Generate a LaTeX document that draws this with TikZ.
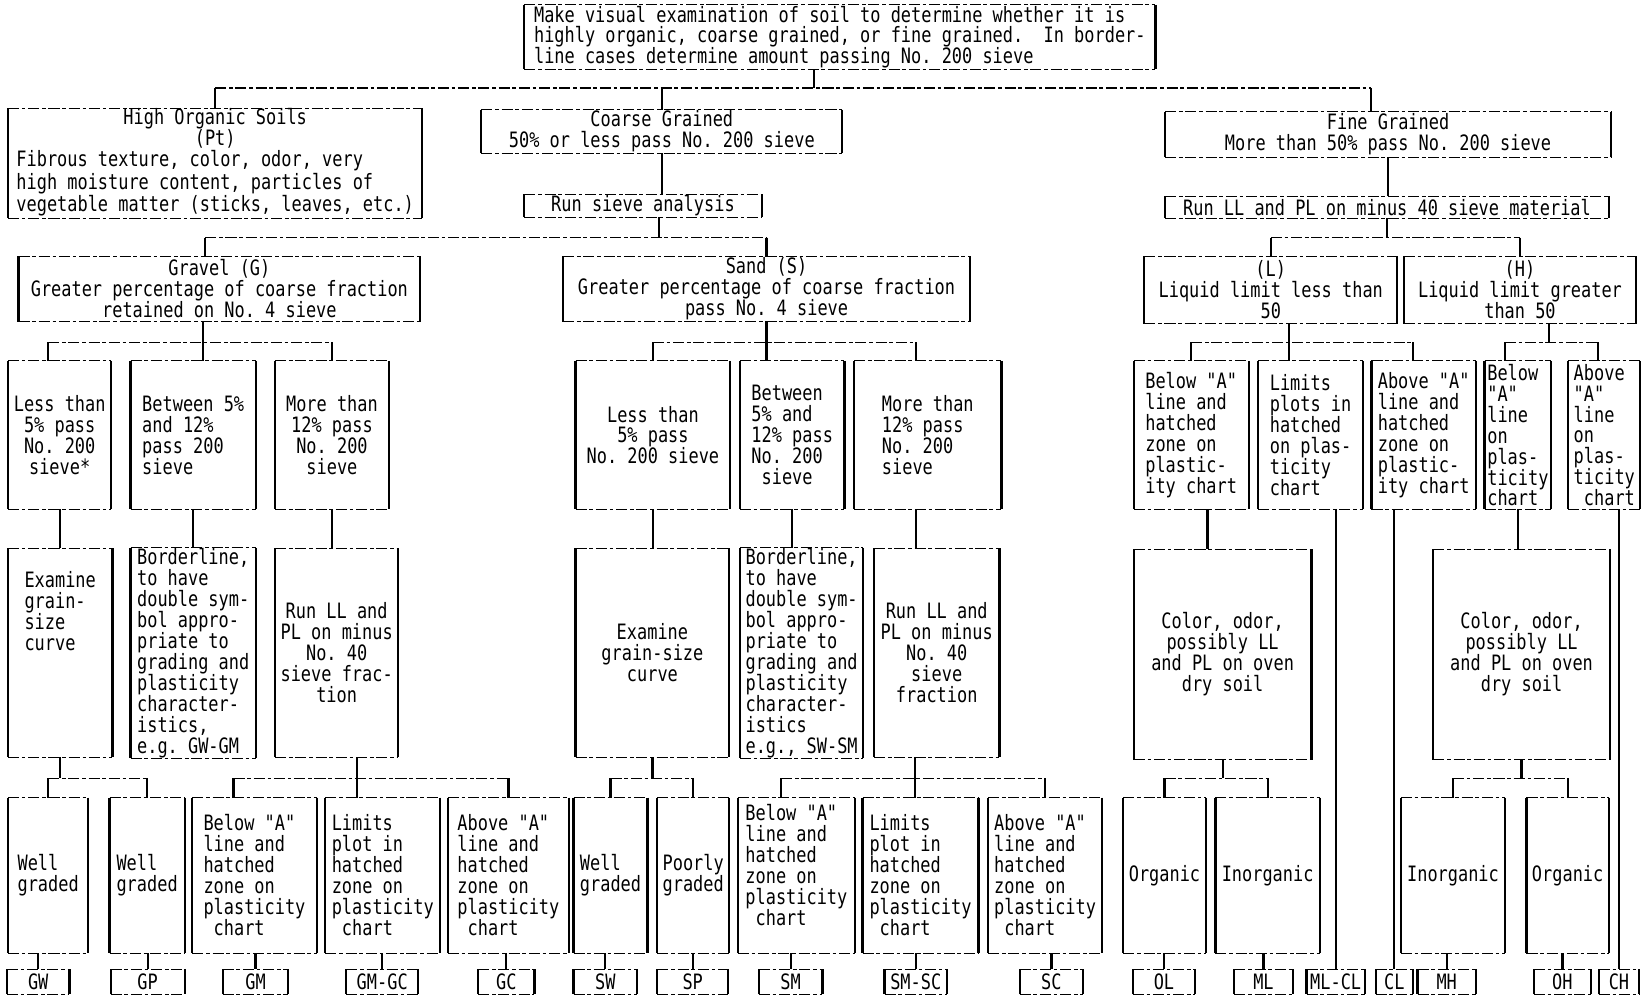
\documentclass[tikz,border=0pt]{standalone}
\usepackage{fontspec}
\newfontfamily\dotfont[FakeStretch=0.8, Ligatures=TeXOff]{DejaVu Sans Mono}
\newcommand{\boxfont}{\dotfont\fontsize{11.5}{11.4}\selectfont\frenchspacing}
\usetikzlibrary{positioning}

\begin{document}
\begin{tikzpicture}[x=0.2mm, y=-0.2mm,
    boxside/.style={line width=1.2pt},
    boxtop/.style={line width=0.6pt, dash pattern=on 6pt off 1.5pt on 2pt off 1.5pt},
    area/.style n args={4}{at={({(#1+#3)/2},{(#2+#4)/2})},
      minimum width={(#3-#1)*0.2mm}, minimum height={(#4-#2)*0.2mm}},
    box/.style={inner sep=0pt, align=center, font=\boxfont,
      append after command={
        (\tikzlastnode.north west) edge[boxside] (\tikzlastnode.south west)
        (\tikzlastnode.north east) edge[boxside] (\tikzlastnode.south east)
        (\tikzlastnode.north west) edge[boxtop] (\tikzlastnode.north east)
        (\tikzlastnode.south west) edge[boxtop] (\tikzlastnode.south east)}},
    lbox/.style={box, align=left},
    link/.style={line width=1.2pt},
    bus/.style={boxtop}]

    \fill[white] (0,0) rectangle (1568,953);
    \useasboundingbox (0,0) rectangle (1568,953);

    % Bus levels
    \coordinate (busA) at (0,84);
    \coordinate (busB) at (0,227);
    \coordinate (busD) at (0,327);
    \coordinate (busE) at (0,743);

    % Top of the chart
    \node[lbox, area={501}{5}{1103}{66}] (T) {Make visual examination of soil to determine whether it is\\highly organic, coarse grained, or fine grained.~ In border-\\line cases determine amount passing No. 200 sieve};

    \node[box, area={8}{105}{403}{207}] (HO) {High Organic Soils\\(Pt)\\\begin{tabular}[t]{@{}l@{}}Fibrous texture, color, odor, very\\high moisture content, particles of\\vegetable matter (sticks, leaves, etc.)\end{tabular}};
    \node[box, area={460}{105}{804}{146}] (CG) {Coarse Grained\\50\% or less pass No. 200 sieve};
    \node[box, area={1113}{107}{1538}{150}] (FG) {Fine Grained\\More than 50\% pass No. 200 sieve};
    \node[box, area={501}{186}{727}{207}] (RS) {Run sieve analysis};
    \node[box, area={1113}{188}{1536}{208}] (RL) {Run LL and PL on minus 40 sieve material};

    \node[box, area={18}{245}{401}{307}] (GR) {Gravel (G)\\Greater percentage of coarse fraction\\retained on No. 4 sieve};
    \node[box, area={538}{245}{926}{307}] (SA) {Sand (S)\\Greater percentage of coarse fraction\\pass No. 4 sieve};
    \node[box, area={1093}{245}{1334}{309}] (LL) {(L)\\Liquid limit less than\\50};
    \node[box, area={1341}{245}{1562}{309}] (LH) {(H)\\Liquid limit greater\\than 50};

    % Gravel - first and second rows
    \node[box, area={8}{345}{106}{486}] (G1a) {Less than\\5\% pass\\No. 200\\sieve*};
    \node[lbox, area={125}{345}{244}{486}] (G1b) {Between 5\%\\and 12\%\\pass 200\\sieve};
    \node[box, area={263}{345}{371}{486}] (G1c) {More than\\12\% pass\\No. 200\\sieve};
    \node[lbox, area={8}{524}{107}{723}] (G2a) {Examine\\grain-\\size\\curve\\~\\~\\~\\~};
    \node[lbox, area={125}{524}{244}{723}] (G2b) {Borderline,\\to have\\double sym-\\bol appro-\\priate to\\grading and\\plasticity\\character-\\istics,\\e.g. GW-GM};
    \node[box, area={263}{524}{380}{723}] (G2c) {Run LL and\\PL on minus\\No. 40\\sieve frac-\\tion};

    % Sand - first and second rows
    \node[box, area={550}{345}{697}{486}] (S1a) {Less than\\5\% pass\\No. 200 sieve};
    \node[lbox, area={707}{345}{806}{486}] (S1b) {Between\\5\% and\\12\% pass\\No. 200\\~sieve};
    \node[lbox, area={816}{345}{956}{486}] (S1c) {More than\\12\% pass\\No. 200\\sieve};
    \node[box, area={550}{524}{696}{723}] (S2a) {Examine\\grain-size\\curve};
    \node[lbox, area={707}{524}{824}{723}] (S2b) {Borderline,\\to have\\double sym-\\bol appro-\\priate to\\grading and\\plasticity\\character-\\istics\\e.g., SW-SM};
    \node[box, area={835}{524}{954}{723}] (S2c) {Run LL and\\PL on minus\\No. 40\\sieve\\fraction};

    % Fine grained - first and second rows
    \node[lbox, area={1083}{345}{1192}{486}] (F1a) {Below "A"\\line and\\hatched\\zone on\\plastic-\\ity chart};
    \node[lbox, area={1202}{345}{1301}{486}] (F1b) {Limits\\plots in\\hatched\\on plas-\\ticity\\chart};
    \node[lbox, area={1310}{345}{1409}{486}] (F1c) {Above "A"\\line and\\hatched\\zone on\\plastic-\\ity chart};
    \node[lbox, area={1418}{345}{1481}{486}] (F1d) {Below\\"A"\\line\\on\\plas-\\ticity\\chart};
    \node[lbox, area={1498}{345}{1566}{486}] (F1e) {Above\\"A"\\line\\on\\plas-\\ticity\\~chart};
    \node[box, area={1083}{525}{1252}{725}] (OvL) {Color, odor,\\possibly LL\\and PL on oven\\dry soil};
    \node[box, area={1369}{525}{1537}{725}] (OvH) {Color, odor,\\possibly LL\\and PL on oven\\dry soil};

    % Third row
    \node[lbox, area={8}{762}{84}{910}] (GW) {Well\\graded};
    \node[lbox, area={105}{762}{176}{910}] (GP) {Well\\graded};
    \node[lbox, area={184}{762}{302}{910}] (GM) {Below "A"\\line and\\hatched\\zone on\\plasticity\\~chart};
    \node[lbox, area={311}{762}{420}{910}] (GMGC) {Limits\\plot in\\hatched\\zone on\\plasticity\\~chart};
    \node[lbox, area={428}{762}{543}{910}] (GC) {Above "A"\\line and\\hatched\\zone on\\plasticity\\~chart};
    \node[lbox, area={548}{762}{618}{910}] (SW) {Well\\graded};
    \node[lbox, area={628}{762}{696}{910}] (SP) {Poorly\\graded};
    \node[lbox, area={705}{762}{816}{910}] (SM) {Below "A"\\line and\\hatched\\zone on\\plasticity\\~chart\\~};
    \node[lbox, area={824}{762}{934}{910}] (SMSC) {Limits\\plot in\\hatched\\zone on\\plasticity\\~chart};
    \node[lbox, area={944}{762}{1052}{910}] (SC) {Above "A"\\line and\\hatched\\zone on\\plasticity\\~chart};
    \node[box, area={1073}{762}{1151}{910}] (OL) {Organic};
    \node[box, area={1161}{762}{1260}{910}] (ML) {Inorganic};
    \node[box, area={1338}{762}{1437}{910}] (MH) {Inorganic};
    \node[box, area={1458}{762}{1536}{910}] (OH) {Organic};

    % Group symbols
    \node[box, area={7}{926}{66}{949}] (cGW) {GW};
    \node[box, area={106}{926}{176}{949}] (cGP) {GP};
    \node[box, area={213}{926}{275}{949}] (cGM) {GM};
    \node[box, area={331}{926}{399}{949}] (cGMGC) {GM-GC};
    \node[box, area={457}{926}{510}{949}] (cGC) {GC};
    \node[box, area={548}{926}{608}{949}] (cSW) {SW};
    \node[box, area={628}{926}{695}{949}] (cSP) {SP};
    \node[box, area={725}{926}{785}{949}] (cSM) {SM};
    \node[box, area={845}{926}{904}{949}] (cSMSC) {SM-SC};
    \node[box, area={974}{926}{1034}{949}] (cSC) {SC};
    \node[box, area={1082}{926}{1141}{949}] (cOL) {OL};
    \node[box, area={1179}{926}{1234}{949}] (cML) {ML};
    \node[box, area={1248}{926}{1303}{949}] (cMLCL) {ML-CL};
    \node[box, area={1314}{926}{1349}{949}] (cCL) {CL};
    \node[box, area={1354}{926}{1409}{949}] (cMH) {MH};
    \node[box, area={1465}{926}{1519}{949}] (cOH) {OH};
    \node[box, area={1527}{926}{1565}{949}] (cCH) {CH};

    % Connections from the top box
    \draw[link] ([xshift=-5mm]T.south) -- ([xshift=-5mm]T.south |- busA);
    \draw[bus] (HO.north |- busA) -- ([xshift=-3.2mm]FG.north |- busA);
    \draw[link] (HO.north |- busA) -- (HO.north);
    \draw[link] (CG.north |- busA) -- (CG.north);
    \draw[link] ([xshift=-3.2mm]FG.north |- busA) -- ([xshift=-3.2mm]FG.north);

    % Coarse grained
    \draw[link] (CG.south) -- (CG.south |- RS.north);
    \draw[link] ([xshift=3mm]RS.south) -- ([xshift=3mm]RS.south |- busB);
    \draw[bus] ([xshift=-2.7mm]GR.north |- busB) -- (SA.north |- busB);
    \draw[link] ([xshift=-2.7mm]GR.north |- busB) -- ([xshift=-2.7mm]GR.north);
    \draw[link] (SA.north |- busB) -- (SA.north);

    % Fine grained
    \draw[link] (FG.south) -- (FG.south |- RL.north);
    \draw[link] (RL.south) -- (RL.south |- busB);
    \draw[bus] (LL.north |- busB) -- (LH.north |- busB);
    \draw[link] (LL.north |- busB) -- (LL.north);
    \draw[link] (LH.north |- busB) -- (LH.north);

    % Gravel to its first row
    \draw[link] ([xshift=-3.1mm]GR.south) -- ([xshift=-3.1mm]GR.south |- G1b.north);
    \draw[bus] ([xshift=-2.2mm]G1a.north |- busD) -- (G1c.north |- busD);
    \draw[link] ([xshift=-2.2mm]G1a.north |- busD) -- ([xshift=-2.2mm]G1a.north);
    \draw[link] (G1c.north |- busD) -- (G1c.north);

    % Sand to its first row
    \draw[link] (SA.south) -- (SA.south |- S1b.north);
    \draw[bus] (S1a.north |- busD) -- ([xshift=-2.2mm]S1c.north |- busD);
    \draw[link] (S1a.north |- busD) -- (S1a.north);
    \draw[link] ([xshift=-2.2mm]S1c.north |- busD) -- ([xshift=-2.2mm]S1c.north);

    % Liquid limit boxes to the first row
    \draw[link] ([xshift=3.5mm]LL.south) -- ([xshift=3.5mm]LL.south |- F1b.north);
    \draw[bus] (F1a.north |- busD) -- ([xshift=-2mm]F1c.north |- busD);
    \draw[link] (F1a.north |- busD) -- (F1a.north);
    \draw[link] ([xshift=-2mm]F1c.north |- busD) -- ([xshift=-2mm]F1c.north);
    \draw[link] ([xshift=5.5mm]LH.south) -- ([xshift=5.5mm]LH.south |- busD);
    \draw[bus] ([xshift=-2.5mm]F1d.north |- busD) -- ([xshift=-1.2mm]F1e.north |- busD);
    \draw[link] ([xshift=-2.5mm]F1d.north |- busD) -- ([xshift=-2.5mm]F1d.north);
    \draw[link] ([xshift=-1.2mm]F1e.north |- busD) -- ([xshift=-1.2mm]F1e.north);

    % First row to second row
    \foreach \a/\b in {G1a/G2a, G1b/G2b, G1c/G2c, S1a/S2a, S1b/S2b, F1d/OvH}
        \draw[link] (\a.south) -- (\a.south |- \b.north);
    \draw[link] ([xshift=-2.2mm]S1c.south) -- ([xshift=-2.2mm]S1c.south |- S2c.north);
    \draw[link] ([xshift=3.1mm]F1a.south) -- ([xshift=3.1mm]F1a.south |- OvL.north);

    % Second row to third row
    \draw[link] (G2a.south) -- (G2a.south |- busE);
    \draw[bus] (GW.north |- busE) -- (GP.north |- busE);
    \draw[link] ([xshift=3.9mm]G2c.south) -- ([xshift=3.9mm]G2c.south |- GMGC.north);
    \draw[bus] ([xshift=-4mm]GM.north |- busE) -- (GC.north |- busE);
    \draw[link] ([xshift=-4mm]GM.north |- busE) -- ([xshift=-4mm]GM.north);

    \draw[link] (S2a.south) -- (S2a.south |- busE);
    \draw[bus] (SW.north |- busE) -- (SP.north |- busE);
    \draw[link] ([xshift=-4.1mm]S2c.south) -- ([xshift=-4.1mm]S2c.south |- SMSC.north);
    \draw[bus] ([xshift=-2.9mm]SM.north |- busE) -- (SC.north |- busE);
    \draw[link] ([xshift=-2.9mm]SM.north |- busE) -- ([xshift=-2.9mm]SM.north);

    \draw[link] (OvL.south) -- (OvL.south |- busE);
    \draw[bus] (OL.north |- busE) -- (ML.north |- busE);
    \draw[link] (OvH.south) -- (OvH.south |- busE);
    \draw[bus] (MH.north |- busE) -- (OH.north |- busE);

    \foreach \c in {GW, GP, GC, SW, SP, SC, OL, ML, MH, OH}
        \draw[link] (\c.north |- busE) -- (\c.north);

    % Third row to the group symbols
    \foreach \c in {GW, GP, GM, GMGC, GC, SW, SP, SM, SMSC, SC, OL, ML, MH, OH}
        \draw[link] (c\c.north |- \c.south) -- (c\c.north);
    \draw[link] (cMLCL.north |- F1b.south) -- (cMLCL.north);
    \draw[link] (cCL.north |- F1c.south) -- (cCL.north);
    \draw[link] (cCH.north |- F1e.south) -- (cCH.north);

\end{tikzpicture}
\end{document}
